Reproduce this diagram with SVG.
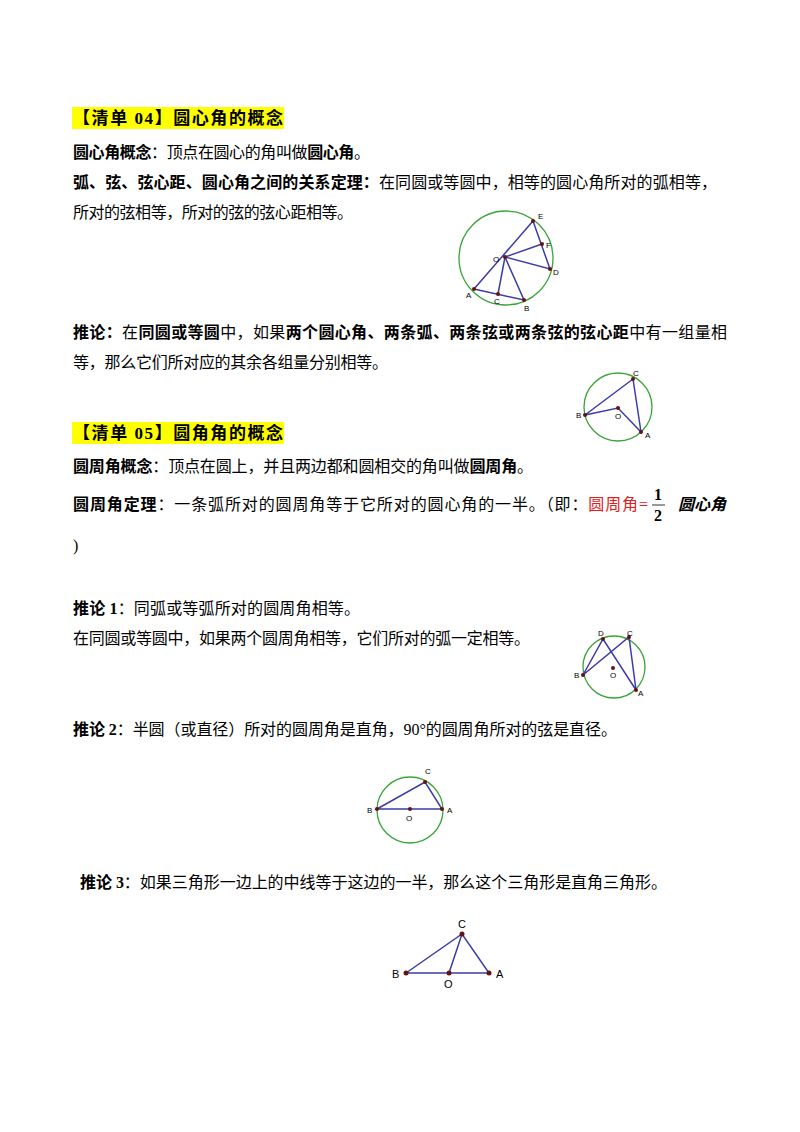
<svg xmlns="http://www.w3.org/2000/svg" width="800" height="1132" viewBox="0 0 800 1132">
<style>
text{font-family:"Liberation Serif","Noto Sans CJK SC",serif;font-size:16px;fill:#000}
.b{font-weight:bold}
.h{font-size:17px;font-weight:bold}
.c{fill:none;stroke:#3aa43a;stroke-width:1.3}
.l{stroke:#3c3ca8;stroke-width:1.5;fill:none}
.p{fill:#6a1010}
.lb{font-family:"Liberation Sans",sans-serif;font-size:8px}
</style>
<rect width="800" height="1132" fill="#fff"/>
<rect x="72" y="107" width="212" height="22" fill="#ffff00"/>
<text x="73" y="124" class="h" textLength="210" lengthAdjust="spacing">【清单 04】圆心角的概念</text>
<text x="73" y="158" textLength="297" lengthAdjust="spacing"><tspan class="b">圆心角概念</tspan>：顶点在圆心的角叫做<tspan class="b">圆心角</tspan>。</text>
<text x="73" y="188" textLength="644" lengthAdjust="spacing"><tspan class="b">弧、弦、弦心距、圆心角之间的关系定理：</tspan>在同圆或等圆中，相等的圆心角所对的弧相等，</text>
<text x="73" y="218" textLength="280" lengthAdjust="spacing">所对的弦相等，所对的弦的弦心距相等。</text>
<g id="fig1">
<circle class="c" cx="506" cy="258" r="47"/>
<path class="l" d="M474,289 L533,221 L550,269 L505,257 L542,244 M505,257 L498,294 M505,257 L524,300 L474,289"/>
<g class="p"><circle cx="533" cy="221" r="2"/><circle cx="542" cy="244" r="2"/><circle cx="550" cy="269" r="2"/><circle cx="505" cy="257" r="2"/><circle cx="474" cy="289" r="2"/><circle cx="498" cy="294" r="2"/><circle cx="524" cy="300" r="2"/></g>
<text class="lb" x="538" y="219">E</text><text class="lb" x="546" y="248">F</text><text class="lb" x="553" y="275">D</text><text class="lb" x="493" y="262">O</text><text class="lb" x="466" y="298">A</text><text class="lb" x="494" y="304">C</text><text class="lb" x="524" y="311">B</text>
</g>
<text x="73" y="338" textLength="654" lengthAdjust="spacing"><tspan class="b">推论：</tspan>在<tspan class="b">同圆或等圆</tspan>中，如果<tspan class="b">两个圆心角、两条弧、两条弦或两条弦的弦心距</tspan>中有一组量相</text>
<text x="73" y="368" textLength="315" lengthAdjust="spacing">等，那么它们所对应的其余各组量分别相等。</text>
<g id="fig2">
<circle class="c" cx="618" cy="407" r="34"/>
<path class="l" d="M585,415 L633,379 L641,432 L618,408 Z"/>
<g class="p"><circle cx="633" cy="379" r="2"/><circle cx="585" cy="415" r="2"/><circle cx="618" cy="408" r="2"/><circle cx="641" cy="432" r="2"/></g>
<text class="lb" x="633" y="376">C</text><text class="lb" x="576" y="418">B</text><text class="lb" x="615" y="419">O</text><text class="lb" x="645" y="438">A</text>
</g>
<rect x="72" y="422" width="212" height="22" fill="#ffff00"/>
<text x="73" y="439" class="h" textLength="210" lengthAdjust="spacing">【清单 05】圆角角的概念</text>
<text x="73" y="472" textLength="460" lengthAdjust="spacing"><tspan class="b">圆周角概念</tspan>：顶点在圆上，并且两边都和圆相交的角叫做<tspan class="b">圆周角</tspan>。</text>
<text x="73" y="510" textLength="575" lengthAdjust="spacing"><tspan class="b">圆周角定理</tspan>：一条弧所对的圆周角等于它所对的圆心角的一半。（即：<tspan fill="#e02020">圆周角=</tspan></text>
<text x="658" y="500" class="b" text-anchor="middle">1</text>
<line x1="652" y1="505" x2="665" y2="505" stroke="#000" stroke-width="0.8"/>
<text x="658" y="521" class="b" text-anchor="middle">2</text>
<text x="678" y="510" class="b" font-style="italic">圆心角</text>
<text x="73" y="551">)</text>
<text x="73" y="614" textLength="287" lengthAdjust="spacing"><tspan class="b">推论 1</tspan>：同弧或等弧所对的圆周角相等。</text>
<text x="73" y="644" textLength="457" lengthAdjust="spacing">在同圆或等圆中，如果两个圆周角相等，它们所对的弧一定相等。</text>
<g id="fig3">
<circle class="c" cx="614" cy="667" r="31"/>
<path class="l" d="M583,675 L603,639 L636,690 L629,637 Z"/>
<g class="p"><circle cx="603" cy="639" r="2"/><circle cx="629" cy="637" r="2"/><circle cx="583" cy="675" r="2"/><circle cx="613" cy="668" r="2"/><circle cx="636" cy="690" r="2"/></g>
<text class="lb" x="598" y="636">D</text><text class="lb" x="627" y="636">C</text><text class="lb" x="574" y="678">B</text><text class="lb" x="610" y="678">O</text><text class="lb" x="638" y="696">A</text>
</g>
<text x="73" y="735" textLength="544" lengthAdjust="spacing"><tspan class="b">推论 2</tspan>：半圆（或直径）所对的圆周角是直角，90°的圆周角所对的弦是直径。</text>
<g id="fig4">
<circle class="c" cx="410" cy="810" r="33"/>
<path class="l" d="M377,809 L425,782 L442,809 Z"/>
<g class="p"><circle cx="425" cy="782" r="2"/><circle cx="377" cy="809" r="2"/><circle cx="410" cy="809" r="2"/><circle cx="442" cy="809" r="2"/></g>
<text class="lb" x="425" y="774">C</text><text class="lb" x="367" y="813">B</text><text class="lb" x="406" y="821">O</text><text class="lb" x="447" y="813">A</text>
</g>
<text x="80" y="888" textLength="587" lengthAdjust="spacing"><tspan class="b">推论 3</tspan>：如果三角形一边上的中线等于这边的一半，那么这个三角形是直角三角形。</text>
<g id="fig5">
<path class="l" d="M406,973 L462,934 L489,973 Z M462,934 L449,973"/>
<g class="p"><circle cx="406" cy="973" r="2.5"/><circle cx="449" cy="973" r="2.5"/><circle cx="489" cy="973" r="2.5"/><circle cx="462" cy="934" r="2.5"/></g>
<text class="lb" style="font-size:11px" x="458" y="928">C</text><text class="lb" style="font-size:11px" x="392" y="978">B</text><text class="lb" style="font-size:11px" x="444" y="988">O</text><text class="lb" style="font-size:11px" x="496" y="978">A</text>
</g>
</svg>
